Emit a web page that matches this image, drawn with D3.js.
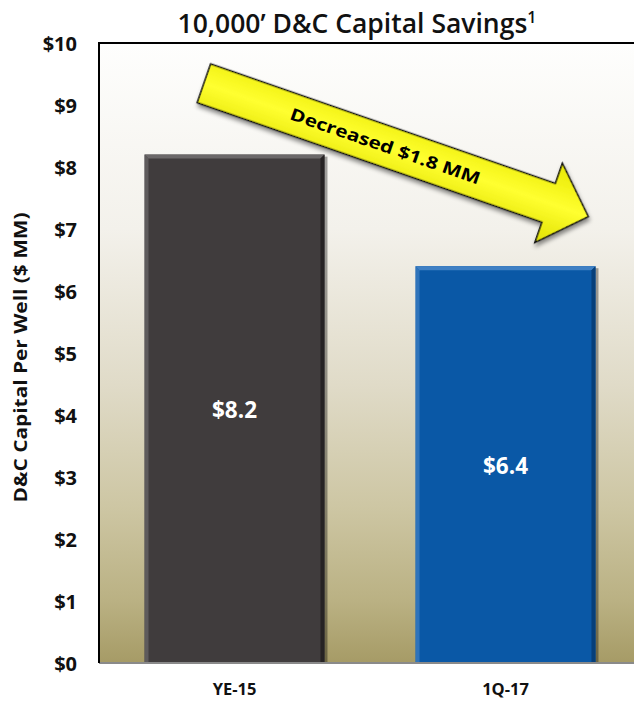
<!DOCTYPE html>
<html><head><meta charset="utf-8">
<script src="https://cdn.jsdelivr.net/npm/d3@7"></script>
<style>html,body{margin:0;padding:0;background:#fff;}svg{display:block;}</style>
</head><body>
<svg id="c" width="634" height="704"></svg>
<script>
const categories = ["YE-15", "1Q-17"];
const values = [8.2, 6.4];
const valueLabels = ["$8.2", "$6.4"];
const yTicks = [0,1,2,3,4,5,6,7,8,9,10];
const title = "10,000\u2019 D&C Capital Savings";
const titleSup = "1";
const yTitle = "D&C Capital Per Well ($ MM)";
const arrowText = "Decreased $1.8 MM";
const arrowFrom = {cat: "YE-15", frac: 0.33, value: 9.35};
const arrowTo = {cat: "1Q-17", frac: 0.96, value: 7.2};

const W = 634, H = 704;
const m = {l: 99, t: 43, r: 0, b: 41};
const svg = d3.select("#c");
const font = "'Open Sans', Lato, sans-serif";

const x = d3.scaleBand().domain(categories).range([m.l, m.l + 542]).paddingInner(0.336).paddingOuter(0.168);
const y = d3.scaleLinear().domain([0, 10]).range([H - m.b, m.t]);

const defs = svg.append("defs");
const bg = defs.append("linearGradient").attr("id","bg").attr("x1",0).attr("y1",0).attr("x2",0).attr("y2",1);
[[0,"#fefefd"],[0.3,"#f3f1eb"],[0.55,"#e0dbc8"],[0.75,"#cdc6a3"],[0.9,"#bab183"],[1,"#a69b66"]]
  .forEach(([o,c]) => bg.append("stop").attr("offset",o).attr("stop-color",c));
const ag = defs.append("linearGradient").attr("id","ag").attr("x1",0).attr("y1",0).attr("x2",0).attr("y2",1);
[[0,"#e8e800"],[0.5,"#ffff30"],[1,"#e0e000"]].forEach(([o,c]) => ag.append("stop").attr("offset",o).attr("stop-color",c));
const sh = defs.append("filter").attr("id","sh").attr("x","-10%").attr("y","-10%").attr("width","130%").attr("height","140%");
sh.append("feDropShadow").attr("dx",2).attr("dy",3).attr("stdDeviation",2).attr("flood-color","#000").attr("flood-opacity",0.45);

// plot background
svg.append("rect").attr("x", m.l).attr("y", m.t).attr("width", W - m.l).attr("height", y(0) - m.t).attr("fill","url(#bg)");

// bars
const barColors = [{f:"#403c3d", hi:"#6b6869", lo:"#262324"}, {f:"#0a58a6", hi:"#3f80c4", lo:"#063f7a"}];
categories.forEach((c,i) => {
  const bx = x(c), bw = x.bandwidth(), by = y(values[i]), bh = y(0) - y(values[i]);
  const col = barColors[i];
  const g = svg.append("g");
  g.append("rect").attr("x", bx+3).attr("y", by+2).attr("width", bw).attr("height", bh-2).attr("fill","#000").attr("opacity",0.35);
  g.append("rect").attr("x", bx).attr("y", by).attr("width", bw).attr("height", bh).attr("fill", col.f);
  const e = 4;
  g.append("polygon").attr("points", [[bx,by],[bx+bw,by],[bx+bw-e,by+e],[bx+e,by+e]].join(" ")).attr("fill", col.hi);
  g.append("polygon").attr("points", [[bx,by],[bx+e,by+e],[bx+e,by+bh],[bx,by+bh]].join(" ")).attr("fill", col.hi).attr("opacity",0.7);
  g.append("polygon").attr("points", [[bx+bw,by],[bx+bw,by+bh],[bx+bw-e,by+bh],[bx+bw-e,by+e]].join(" ")).attr("fill", col.lo);
  g.append("text").attr("x", bx + bw/2).attr("y", (by + y(0))/2 + 9).attr("text-anchor","middle")
    .attr("font-family", font).attr("font-weight","bold").attr("font-size", 22.5).attr("fill","#fff").text(valueLabels[i]);
});

// axes lines
svg.append("line").attr("x1", m.l).attr("x2", W).attr("y1", m.t).attr("y2", m.t).attr("stroke","#000").attr("stroke-width",2);
svg.append("line").attr("x1", m.l).attr("x2", W).attr("y1", y(0)).attr("y2", y(0)).attr("stroke","#8a8a8a").attr("stroke-width",2);
svg.append("line").attr("x1", m.l).attr("x2", m.l).attr("y1", m.t-1).attr("y2", y(0)).attr("stroke","#000").attr("stroke-width",2);

// y ticks
const ya = svg.append("g").attr("transform", `translate(${m.l - 22},0)`)
  .call(d3.axisLeft(y).tickValues(yTicks).tickSize(0).tickPadding(0).tickFormat(d => "$" + d));
ya.select(".domain").remove();
ya.selectAll("text").attr("font-family", font).attr("font-weight","bold").attr("font-size", 20).attr("fill","#111").attr("dy","0.35em");

// x labels
const xa = svg.append("g").attr("transform", `translate(0,${y(0)})`).call(d3.axisBottom(x).tickSize(0).tickPadding(0));
xa.select(".domain").remove();
xa.selectAll("text").attr("font-family", font).attr("font-weight","bold").attr("font-size", 16.5).attr("fill","#111")
  .attr("dy", 0).attr("y", 32);

// y title
svg.append("text").attr("transform", `translate(27,${(212 + 503)/2}) rotate(-90)`).attr("text-anchor","middle")
  .attr("font-family", font).attr("font-weight","bold").attr("font-size", 18).attr("textLength", 290)
  .attr("lengthAdjust","spacingAndGlyphs").attr("fill","#111").text(yTitle);

// title
const t = svg.append("text").attr("x", 357).attr("y", 33).attr("text-anchor","middle")
  .attr("font-family", font).attr("font-weight", 600).attr("font-size", 26.5).attr("fill","#111");
t.append("tspan").text(title);
t.append("tspan").attr("dy", -10).attr("font-size", 16).text(titleSup);

// arrow annotation
const p0 = [x(arrowFrom.cat) + x.bandwidth()*arrowFrom.frac, y(arrowFrom.value)];
const p1 = [x(arrowTo.cat) + x.bandwidth()*arrowTo.frac, y(arrowTo.value)];
const L = Math.hypot(p1[0]-p0[0], p1[1]-p0[1]);
const ang = Math.atan2(p1[1]-p0[1], p1[0]-p0[0]) * 180/Math.PI;
const hw = 20.5, hh = 42, hl = 42;
const ag2 = svg.append("g").attr("transform", `translate(${p0[0]},${p0[1]}) rotate(${ang})`);
ag2.append("polygon").attr("points", [[0,-hw],[L-hl,-hw],[L-hl,-hh],[L,0],[L-hl,hh],[L-hl,hw],[0,hw]].join(" "))
  .attr("fill","url(#ag)").attr("stroke","#111").attr("stroke-width",1.5).attr("stroke-linejoin","miter").attr("filter","url(#sh)");
ag2.append("text").attr("x", 192).attr("y", 6).attr("text-anchor","middle").attr("font-family", font).attr("font-weight","bold")
  .attr("font-size", 17).attr("textLength", 200).attr("lengthAdjust","spacingAndGlyphs").attr("fill","#000").text(arrowText);
</script>
</body></html>
